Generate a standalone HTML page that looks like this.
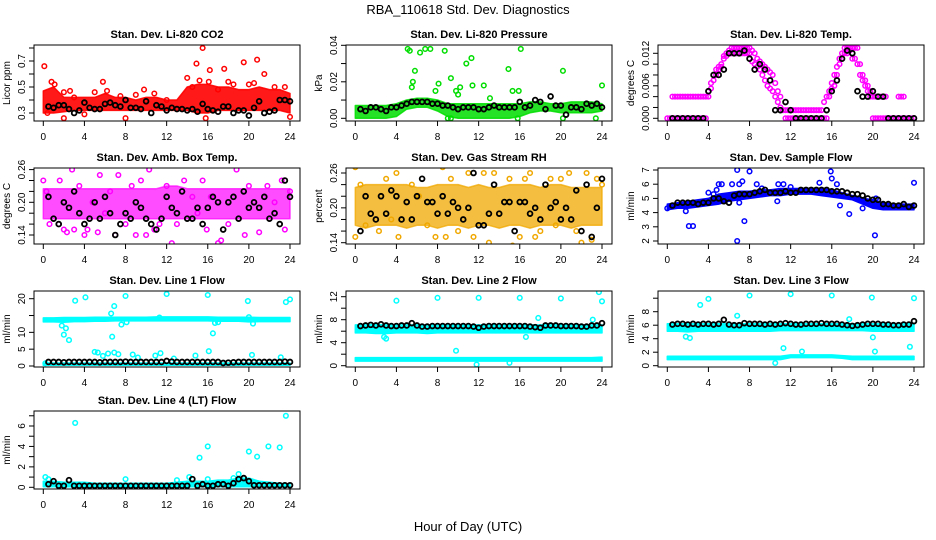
<!DOCTYPE html>
<html><head><meta charset="utf-8"><style>
html,body{margin:0;padding:0;background:#fff;width:936px;height:540px;overflow:hidden}
svg{display:block;font-family:"Liberation Sans",sans-serif}
</style></head><body>
<svg id="chart" width="936" height="540" viewBox="0 0 936 540">
<text x="468" y="14" font-size="13" text-anchor="middle">RBA_110618  Std. Dev. Diagnostics</text>
<text x="468" y="531" font-size="13" text-anchor="middle">Hour of Day (UTC)</text>
</svg>
<script>
const hrs=[0.5,1,1.5,2,2.5,3,3.5,4,4.5,5,5.5,6,6.5,7,7.5,8,8.5,9,9.5,10,10.5,11,11.5,12,12.5,13,13.5,14,14.5,15,15.5,16,16.5,17,17.5,18,18.5,19,19.5,20,20.5,21,21.5,22,22.5,23,23.5,24];
const bandHrs=[0,1,2,3,4,5,6,7,8,9,10,11,12,13,14,15,16,17,18,19,20,21,22,23,24];
const xTicks=[0,4,8,12,16,20,24];

// Panel 1 CO2
const co2Black=[0.35,0.34,0.36,0.36,0.33,0.30,0.32,0.38,0.34,0.33,0.33,0.37,0.38,0.36,0.35,0.40,0.34,0.34,0.33,0.39,0.30,0.36,0.35,0.32,0.34,0.33,0.33,0.32,0.33,0.31,0.37,0.33,0.32,0.31,0.35,0.35,0.30,0.32,0.32,0.28,0.34,0.39,0.30,0.31,0.32,0.40,0.40,0.39];
const co2Hi=[0.47,0.5,0.42,0.42,0.42,0.42,0.45,0.42,0.42,0.4,0.42,0.42,0.4,0.4,0.5,0.52,0.52,0.5,0.5,0.48,0.48,0.5,0.48,0.48,0.45];
const co2Lo=[0.3,0.3,0.31,0.32,0.32,0.32,0.32,0.32,0.32,0.32,0.32,0.32,0.32,0.32,0.32,0.3,0.3,0.32,0.32,0.32,0.32,0.32,0.32,0.32,0.3];
const co2Pts=[[0.1,0.66],[0.4,0.3],[0.8,0.54],[1.1,0.52],[2,0.46],[2,0.26],[2.6,0.47],[3,0.42],[4,0.29],[5,0.46],[5.8,0.54],[6.2,0.47],[7.5,0.43],[8,0.26],[9,0.44],[9.8,0.48],[10.8,0.45],[12,0.4],[14,0.57],[14.5,0.5],[14.9,0.68],[15.2,0.55],[15.5,0.8],[15.8,0.26],[16.1,0.54],[16.2,0.63],[17,0.48],[17.6,0.64],[18,0.54],[18.5,0.52],[19.5,0.69],[20,0.52],[20.5,0.53],[20.8,0.71],[21.5,0.6],[22.5,0.5],[23.5,0.5],[24,0.27]];

// Panel 2 pressure
const prBlack=[0.005,0.004,0.006,0.006,0.005,0.004,0.006,0.006,0.007,0.008,0.009,0.009,0.009,0.009,0.008,0.008,0.007,0.007,0.006,0.005,0.006,0.006,0.006,0.005,0.005,0.006,0.007,0.006,0.006,0.006,0.006,0.009,0.006,0.007,0.010,0.009,0.005,0.012,0.007,0.007,0.002,0.006,0.006,0.005,0.008,0.007,0.008,0.006];
const prHi=[0.007,0.007,0.007,0.007,0.008,0.010,0.011,0.011,0.010,0.008,0.008,0.008,0.008,0.008,0.008,0.008,0.008,0.009,0.009,0.008,0.008,0.009,0.009,0.009,0.008];
const prLo=[0,0,0,0,0.001,0.005,0.006,0.006,0.004,0.001,0,0,0,0,0,0,0.001,0.003,0.004,0.004,0.003,0.003,0.003,0.003,0.004];
const prPts=[[5.1,0.038],[5.3,0.037],[5.5,0.017],[5.6,0.02],[5.8,0.026],[6.3,0.036],[6.8,0.038],[7.3,0.038],[7.8,0.015],[8.1,0.019],[8.7,0.037],[9.3,0.022],[9.8,0.015],[10,0.013],[10.2,0.017],[10.8,0.03],[11.3,0.033],[11.4,0.018],[12.5,0.018],[13.1,0.011],[14.9,0.027],[15.3,0.015],[15.9,0.015],[16.1,0.038],[20.2,0.026],[23.4,0],[24,0.018],[9,0],[9.3,0],[15.8,0],[20.2,0]];

// Panel 3 Li-820 temp (quarter-hour series)
const tempA=[null,null,.004,.004,.004,.004,.004,.004,.004,.004,.004,.004,.004,.004,.004,.004,.005,.0065,.008,.009,.0095,.010,.0115,.012,.0125,.013,.013,.013,.013,.013,.013,.013,.013,.0125,.012,.011,.0105,.010,.0095,.009,.0085,.008,.0065,.005,.004,.0015,.0015,.0015,.0015,.0015,.0015,.0015,.0015,.0015,.0015,.0015,.0015,.0015,.0015,.0015,.0015,.003,.004,.005,.0065,.008,.0095,.011,.012,.013,.013,.013,.013,.013,.013,.010,.008,.007,.006,.005,.004,.004,.004,.004,.004,.004,null,null,null,null,.004,.004,.004,null,null,null,null];
const tempB=[0,0,0,0,0,0,0,0,0,0,0,0,0,0,0,0,.004,.0055,.007,.008,.009,.0095,.011,.0115,.012,.012,.012,.012,.012,.012,.012,.012,.012,.0105,.010,.0095,.009,.008,.007,.006,.0055,.005,.004,.003,.002,null,0,0,0,0,0,0,0,0,0,0,0,0,0,0,0,0,0,.004,.0055,.006,.008,.010,.011,.012,.012,.0125,.011,.011,.010,.008,.007,.006,.005,.004,0,0,0,0,0,0,0,0,0,0,0,0,0,0,0,0,0];
const tempBlack=[0,0,0,0,0,0,0,.005,.008,.008,.009,.012,.012,.012,.0125,.011,.009,.010,.009,.007,.0015,.0015,.003,.0015,0,0,0,0,0,0,.0015,.005,.007,.011,.0125,.012,.005,.004,.004,.005,.004,.004,0,0,0,0,0,0];

// Panel 4 amb box temp
const ambBlack=[0.21,0.17,0.16,0.20,0.19,0.22,0.18,0.16,0.17,0.20,0.17,0.21,0.18,0.14,0.16,0.18,0.17,0.20,0.19,0.17,0.16,0.15,0.17,0.21,0.19,0.18,0.22,0.17,0.17,0.19,0.16,0.19,0.21,0.20,0.15,0.20,0.21,0.17,0.22,0.19,0.20,0.19,0.21,0.17,0.18,0.16,0.24,0.21];
const ambHi=[0.225,0.225,0.225,0.225,0.225,0.225,0.225,0.225,0.225,0.225,0.225,0.225,0.23,0.23,0.225,0.225,0.225,0.225,0.225,0.225,0.225,0.225,0.225,0.225,0.225];
const ambLo=[0.17,0.17,0.17,0.17,0.17,0.17,0.17,0.17,0.17,0.17,0.17,0.17,0.17,0.17,0.17,0.17,0.17,0.17,0.17,0.17,0.17,0.17,0.17,0.17,0.17];
const ambPts=[[0,0.24],[0.3,0.22],[0.6,0.16],[1,0.17],[1.5,0.16],[1.6,0.24],[2,0.15],[2.3,0.145],[2.8,0.26],[3,0.15],[3.5,0.23],[4,0.14],[4.3,0.15],[4.8,0.2],[5.3,0.145],[5.5,0.25],[6,0.18],[6.5,0.22],[7,0.14],[7.3,0.25],[8,0.16],[8.6,0.23],[9,0.14],[9.5,0.24],[10,0.14],[10.3,0.26],[10.8,0.15],[11.3,0.16],[12,0.23],[12.5,0.125],[13,0.16],[13.7,0.24],[14.5,0.21],[15,0.18],[15.5,0.24],[15.9,0.15],[16.3,0.21],[17,0.125],[17.3,0.13],[18,0.16],[18.8,0.26],[19.6,0.14],[20,0.23],[21,0.145],[21.8,0.23],[22.5,0.2],[23.2,0.24],[23.5,0.15],[24,0.22]];

// Panel 5 RH
const rhBlack=[0.16,0.22,0.19,0.18,0.22,0.19,0.23,0.22,0.18,0.21,0.18,0.22,0.25,0.21,0.21,0.19,0.22,0.19,0.21,0.20,0.18,0.20,0.26,0.17,0.17,0.19,0.24,0.19,0.21,0.21,0.16,0.21,0.21,0.19,0.20,0.18,0.24,0.20,0.21,0.18,0.20,0.18,0.23,0.16,0.24,0.15,0.20,0.25];
const rhHi=[0.235,0.24,0.24,0.24,0.24,0.24,0.235,0.235,0.24,0.24,0.24,0.235,0.24,0.235,0.235,0.24,0.24,0.24,0.235,0.24,0.24,0.235,0.235,0.235,0.235];
const rhLo=[0.17,0.165,0.17,0.17,0.17,0.165,0.17,0.17,0.165,0.17,0.17,0.165,0.17,0.17,0.165,0.17,0.17,0.165,0.17,0.17,0.17,0.165,0.17,0.17,0.17];
const rhPts=[[0,0.27],[0,0.15],[0.5,0.24],[1,0.17],[2,0.18],[2.3,0.16],[3,0.25],[3.5,0.18],[4,0.26],[4.2,0.15],[5.5,0.24],[6.2,0.22],[7,0.17],[7.8,0.15],[8.5,0.27],[8.8,0.15],[9.3,0.25],[10,0.16],[11,0.26],[11.5,0.15],[12.5,0.26],[13,0.14],[13.5,0.26],[14.5,0.13],[15,0.25],[15.3,0.135],[16,0.15],[16.5,0.25],[17,0.26],[17.5,0.15],[18,0.16],[19,0.25],[19.5,0.17],[20,0.25],[20.8,0.26],[21.5,0.16],[22,0.14],[22.5,0.26],[23,0.145],[23.5,0.25],[24,0.24]];

// Panel 6 sample flow
const sfBlack=[4.5,4.7,4.7,4.7,4.7,4.6,4.7,4.7,5.0,5.0,4.8,4.7,5.2,5.3,5.3,5.3,5.4,5.5,5.6,5.4,5.4,5.4,5.5,5.4,5.4,5.6,5.6,5.6,5.6,5.6,5.6,5.5,5.5,5.5,5.4,5.3,5.3,5.2,5.0,4.9,4.9,4.6,4.6,4.5,4.5,4.6,4.4,4.5];
const sfHi=[4.6,4.7,4.8,4.9,5.0,5.3,5.4,5.5,5.5,5.6,5.6,5.7,5.7,5.7,5.7,5.7,5.6,5.4,5.2,5.0,4.9,4.7,4.6,4.6,4.6];
const sfLo=[4.2,4.3,4.3,4.4,4.5,4.6,4.8,4.9,5.0,5.1,5.2,5.2,5.3,5.3,5.3,5.2,5.1,5.0,4.9,4.6,4.3,4.2,4.2,4.2,4.2];
const sfPts=[[0,4.3],[1.8,4.1],[2.1,3.05],[2.5,3.05],[4,5.4],[4.5,5.3],[4.8,5.6],[5,6.0],[5.3,6.0],[6.3,6.0],[6.8,7.0],[6.8,2.0],[7,6.0],[7.3,6.2],[7.5,3.4],[7,4.7],[8,6.9],[8.7,6.0],[9.2,5.7],[10.7,4.8],[10.8,6.0],[11.3,6.0],[12,5.8],[14.8,6.1],[15.9,6.9],[16,6.4],[16.5,6.0],[16.8,4.5],[17.7,3.9],[19,4.3],[20.2,2.4],[20.3,5.0],[24,6.1]];

// Panel 7 line 1
const l1Black=[1.2,1.2,1.2,1.1,1.2,1.2,1.2,1.2,1.2,1.2,1.1,1.2,1.2,1.2,1.2,1.3,1.2,1.2,1.2,1.2,1.2,1.2,1.2,1.5,1.3,1.2,1.2,1.2,1.2,1.2,1.2,1.2,1.2,1.2,0.9,1.0,1.1,1.2,1.2,1.2,1.2,1.2,1.2,1.2,1.2,1.2,1.3,1.2];
const l1Hi=[14.3,14.3,14.4,14.4,14.4,14.5,14.5,14.5,14.5,14.5,14.5,14.6,14.6,14.6,14.6,14.6,14.6,14.5,14.5,14.5,14.5,14.4,14.4,14.4,14.4];
const l1Lo=[13.1,13.1,13.0,13.2,13.2,13.3,13.3,13.4,13.4,13.4,13.4,13.4,13.4,13.4,13.4,13.4,13.4,13.3,13.3,13.3,13.1,13.2,13.2,13.2,13.2];
const l1Hi2=[0.9,0.9,0.9,0.9,0.9,0.9,0.9,0.9,0.9,0.9,0.9,0.9,0.9,0.9,0.9,0.9,0.9,0.9,0.9,0.9,0.9,0.9,0.9,0.9,0.9];
const l1Lo2=[0.2,0.2,0.2,0.2,0.2,0.2,0.2,0.2,0.2,0.2,0.2,0.2,0.2,0.2,0.2,0.2,0.2,0.2,0.2,0.2,0.2,0.2,0.2,0.2,0.2];
const l1Pts=[[2,9.3],[1.8,12],[2.2,11.2],[2.5,7.7],[3.1,19.4],[4.1,20.4],[5,4.2],[5.3,4],[5.8,3],[6.3,3.7],[6.6,15.6],[6.7,8.7],[6.9,17.8],[6.9,4],[7.3,3.5],[7.6,12.3],[8,20.8],[8.1,13],[8.7,3.4],[9.2,2.5],[10.9,3.1],[11.3,14.4],[11.4,3.8],[12,21.4],[12.7,2.2],[14.8,3.1],[16,21.1],[16.1,4.4],[16.5,9.7],[16.7,12.8],[17,13],[19.9,19.3],[20,14.5],[20.3,3.3],[20.4,12.6],[23.1,2.6],[23.6,19],[24,19.8],[0.2,0.8]];

// Panel 8 line 2
const l2Black=[6.9,7.0,7.1,7.0,7.2,7.0,6.9,6.9,7.0,7.0,7.4,7.0,6.8,6.8,6.9,6.9,6.9,6.9,6.9,6.9,6.9,6.9,6.8,6.6,6.8,6.9,6.9,6.9,6.9,6.9,6.9,6.9,6.9,6.8,6.7,6.6,7.0,7.0,7.0,6.9,6.9,6.9,6.9,6.8,6.8,7.0,7.0,7.4];
const l2Hi=[7.1,7.1,7.2,7.1,7.1,7.1,7.1,7.1,7.1,7.1,7.1,7.1,7.1,7.1,7.1,7.1,7.1,7.1,7.1,7.1,7.1,7.1,7.1,7.1,7.1];
const l2Lo=[5.7,5.7,5.6,5.6,5.7,5.7,5.7,5.6,5.7,5.7,5.7,5.7,5.7,5.7,5.7,5.7,5.7,5.7,5.7,5.7,5.7,5.7,5.7,5.7,5.7];
const l2Hi2=[1.4,1.4,1.4,1.4,1.4,1.4,1.4,1.4,1.4,1.4,1.4,1.4,1.4,1.4,1.4,1.4,1.4,1.4,1.4,1.4,1.4,1.4,1.4,1.4,1.5];
const l2Lo2=[0.8,0.8,0.8,0.8,0.8,0.8,0.8,0.8,0.8,0.8,0.8,0.8,0.8,0.8,0.8,0.8,0.8,0.8,0.8,0.8,0.8,0.8,0.8,0.8,0.8];
const l2Pts=[[3,4.7],[2.8,5],[4,11.3],[8,11.8],[9.8,2.6],[12,11.8],[11.8,0.2],[15,0.5],[16,11.8],[16.6,5],[17.8,8.3],[20,11.7],[23.1,8],[23.7,12.8],[24,11.2]];

// Panel 9 line 3
const l3Black=[6.1,6.2,6.2,6.1,6.2,6.1,6.2,6.2,6.1,6.2,6.8,6.1,6.0,6.0,6.3,6.2,6.2,6.2,6.1,6.2,6.1,6.2,6.3,6.2,6.1,6.1,6.2,6.2,6.2,6.3,6.2,6.2,6.2,6.1,6.0,5.9,6.0,6.1,6.2,6.2,6.2,6.1,6.1,6.0,6.0,6.1,6.1,6.6];
const l3Hi=[6.2,6.2,6.2,6.2,6.2,6.2,6.2,6.2,6.2,6.2,6.2,6.2,6.2,6.2,6.2,6.2,6.2,6.2,6.2,6.2,6.2,6.2,6.2,6.2,6.3];
const l3Lo=[5.1,5.1,5.0,5.1,5.1,5.1,5.1,5.1,5.1,5.1,5.1,5.2,5.2,5.2,5.2,5.2,5.2,5.2,5.2,5.2,5.1,5.1,5.1,5.1,5.1];
const l3Hi2=[1.4,1.4,1.4,1.4,1.4,1.4,1.4,1.4,1.4,1.4,1.4,1.4,1.6,1.6,1.6,1.6,1.6,1.5,1.4,1.4,1.4,1.4,1.4,1.4,1.4];
const l3Lo2=[0.9,0.9,0.9,0.9,0.9,0.9,0.9,0.9,0.9,0.9,0.9,0.9,1.2,1.2,1.2,1.2,1.2,1.1,0.9,0.9,0.9,0.9,0.9,0.9,0.9];
const l3Pts=[[3.2,9],[4,9.9],[6.8,7.4],[8,10.4],[12,10.6],[16,10.4],[17.7,6.9],[19.9,10.1],[20,4.2],[20.2,2.1],[11.3,2.6],[10.5,0.4],[13.1,2.1],[23.6,2.8],[24,10],[1.8,4.3],[2.2,4.1]];

// Panel 10 line 4
const l4Black=[0.3,0.6,0.15,0.15,0.7,0.15,0.15,0.15,0.15,0.15,0.15,0.15,0.15,0.15,0.15,0.15,0.15,0.15,0.15,0.15,0.15,0.15,0.15,0.15,0.15,0.15,0.15,0.15,0.8,0.15,0.3,0.15,0.15,0.3,0.3,0.15,0.4,0.8,0.9,0.6,0.2,0.2,0.2,0.2,0.2,0.2,0.2,0.2];
const l4Hi=[0.6,0.6,0.5,0.5,0.5,0.4,0.4,0.4,0.4,0.4,0.4,0.4,0.4,0.5,0.6,0.6,0.6,0.7,0.7,0.9,0.9,0.6,0.5,0.4,0.3];
const l4Lo=[0.05,0.05,0.05,0.05,0.05,0.05,0.05,0.05,0.05,0.05,0.05,0.05,0.05,0.05,0.05,0.05,0.05,0.05,0.05,0.05,0.05,0.05,0.05,0.05,0.05];
const l4Pts=[[0.2,1.0],[0.5,0.8],[3.1,6.3],[8,0.8],[13,0.7],[14.2,1.0],[15.2,2.9],[16,4.0],[19,1.3],[20,3.5],[20.8,3.0],[21.9,4.0],[23,3.9],[23.6,7.0],[16,0.8],[18.5,0.9]];

const NS='http://www.w3.org/2000/svg';
const svg=document.getElementById('chart');
function mk(tag,attrs,parent){const e=document.createElementNS(NS,tag);for(const k in attrs)e.setAttribute(k,attrs[k]);(parent||svg).appendChild(e);return e;}

const cols=[[34,300],[346,612],[658,924]];
const rows=[[45,121],[168,244],[291,367],[411,489]];
const colX0=[43.3,355.3,667.3];

const panels=[
 {key:'co2',title:'Stan. Dev. Li-820 CO2',ylab:'Licor ppm',c:0,r:0,ref:[0.3,113,0.7,61],ticks:[0.3,0.4,0.5,0.6,0.7,0.8],labels:{0.3:'0.3',0.5:'0.5',0.7:'0.7'},color:'#ff0000',op:0.9,bands:[[co2Lo,co2Hi]],pts:co2Pts,black:co2Black},
 {key:'pressure',title:'Stan. Dev. Li-820 Pressure',ylab:'kPa',c:1,r:0,ref:[0,118.3,0.04,45.3],ticks:[0,0.01,0.02,0.03,0.04],labels:{0:'0.00',0.02:'0.02',0.04:'0.04'},color:'#00dd00',op:0.85,bands:[[prLo,prHi]],pts:prPts,black:prBlack},
 {key:'li-temp',title:'Stan. Dev. Li-820 Temp.',ylab:'degrees C',c:2,r:0,ref:[0,118.3,0.012,53.3],ticks:[0,0.002,0.004,0.006,0.008,0.010,0.012],labels:{0:'0.000',0.006:'0.006',0.012:'0.012'},color:'#ff00ff',op:1,bands:[],pts:[],quarter:[tempA,tempB],black:tempBlack},
 {key:'amb-temp',title:'Stan. Dev. Amb. Box Temp.',ylab:'degrees C',c:0,r:1,ref:[0.14,235,0.20,202.3],ticks:[0.14,0.16,0.18,0.20,0.22,0.24,0.26],labels:{0.14:'0.14',0.2:'0.20',0.26:'0.26'},color:'#ff00ff',op:0.7,bands:[[ambLo,ambHi]],pts:ambPts,black:ambBlack},
 {key:'rh',title:'Stan. Dev. Gas Stream RH',ylab:'percent',c:1,r:1,ref:[0.14,242.7,0.26,173],ticks:[0.14,0.16,0.18,0.20,0.22,0.24,0.26],labels:{0.14:'0.14',0.2:'0.20',0.26:'0.26'},color:'#f0a800',op:0.75,bands:[[rhLo,rhHi]],pts:rhPts,black:rhBlack},
 {key:'sample-flow',title:'Stan. Dev. Sample Flow',ylab:'ml/min',c:2,r:1,ref:[2,241,7,170],ticks:[2,3,4,5,6,7],labels:{2:'2',3:'3',4:'4',5:'5',6:'6',7:'7'},color:'#0000ff',op:1,bands:[[sfLo,sfHi]],pts:sfPts,black:sfBlack},
 {key:'line1',title:'Stan. Dev. Line 1 Flow',ylab:'ml/min',c:0,r:2,ref:[0,366,20,298.7],ticks:[0,5,10,15,20],labels:{0:'0',5:'5',10:'10',20:'20'},color:'#00ffff',op:1,bands:[[l1Lo,l1Hi],[l1Lo2,l1Hi2]],pts:l1Pts,black:l1Black},
 {key:'line2',title:'Stan. Dev. Line 2 Flow',ylab:'ml/min',c:1,r:2,ref:[0,365.7,12,296.7],ticks:[0,2,4,6,8,10,12],labels:{0:'0',4:'4',8:'8',12:'12'},color:'#00ffff',op:1,bands:[[l2Lo,l2Hi],[l2Lo2,l2Hi2]],pts:l2Pts,black:l2Black},
 {key:'line3',title:'Stan. Dev. Line 3 Flow',ylab:'ml/min',c:2,r:2,ref:[0,365.7,8,311.7],ticks:[0,2,4,6,8,10],labels:{0:'0',2:'2',4:'4',6:'6',8:'8'},color:'#00ffff',op:1,bands:[[l3Lo,l3Hi],[l3Lo2,l3Hi2]],pts:l3Pts,black:l3Black},
 {key:'line4',title:'Stan. Dev. Line 4 (LT) Flow',ylab:'ml/min',c:0,r:3,ref:[0,487.3,6,426],ticks:[0,1,2,3,4,5,6,7],labels:{0:'0',2:'2',4:'4',6:'6'},color:'#00ffff',op:1,bands:[[l4Lo,l4Hi]],pts:l4Pts,black:l4Black}
];

panels.forEach((p,pi)=>{
  const [bx0,bx1]=cols[p.c],[by0,by1]=rows[p.r];
  const x0=colX0[p.c], xs=(290-43.3)/24;
  const X=h=>x0+h*xs;
  const [v0,p0,v1,p1]=p.ref;
  const Y=v=>p0+(v-v0)*(p1-p0)/(v1-v0);
  const g=mk('g',{});
  
  
  const cp=mk('clipPath',{id:'clip'+pi},g);
  mk('rect',{x:bx0,y:by0,width:bx1-bx0,height:by1-by0},cp);
  const plot=mk('g',{'clip-path':'url(#clip'+pi+')'},g);
  
  
  p.bands.forEach(([lo,hi])=>{
    let d='';
    bandHrs.forEach((h,i)=>{d+=(i?'L':'M')+X(h).toFixed(1)+','+Y(hi[i]).toFixed(1);});
    for(let i=bandHrs.length-1;i>=0;i--)d+='L'+X(bandHrs[i]).toFixed(1)+','+Y(lo[i]).toFixed(1);
    const b=mk('path',{d:d+'Z',fill:p.color,'fill-opacity':p.op,stroke:p.color,'stroke-opacity':p.op,'stroke-width':1.5,'stroke-linejoin':'round'},plot);
    
    
  });
  if(p.quarter){
    p.quarter.forEach(arr=>{arr.forEach((v,i)=>{if(v===null)return;
      const c=mk('circle',{cx:X(i/4),cy:Y(v),r:2.3,fill:'none',stroke:p.color,'stroke-width':1.5},plot);
      
      
    });});
  }
  p.pts.forEach(([h,v])=>{
    const c=mk('circle',{cx:X(h),cy:Y(v),r:2.3,fill:'none',stroke:p.color,'stroke-width':1.5},plot);
    
    
  });
  p.black.forEach((v,i)=>{
    const c=mk('circle',{cx:X(hrs[i]),cy:Y(v),r:2.4,fill:'none',stroke:'#000','stroke-width':1.8},plot);
    
    
  });
  const box=mk('rect',{x:bx0,y:by0,width:bx1-bx0,height:by1-by0,fill:'none',stroke:'#000','stroke-width':1},g);
  
  
  xTicks.forEach(t=>{
    mk('line',{x1:X(t),x2:X(t),y1:by1,y2:by1+5,stroke:'#000'},g);
    const tx=mk('text',{x:X(t),y:by1+19,'font-size':10,'text-anchor':'middle'},g);
    tx.textContent=t;
    
    
  });
  p.ticks.forEach(t=>{
    const yy=Y(t);
    mk('line',{x1:bx0-5,x2:bx0,y1:yy,y2:yy,stroke:'#000'},g);
    const key=Object.keys(p.labels).find(k=>Math.abs(parseFloat(k)-t)<1e-9);
    if(key!==undefined){
      const tx=mk('text',{x:bx0-9,y:yy,'font-size':10,'text-anchor':'middle',transform:'rotate(-90 '+(bx0-9)+' '+yy+')'},g);
      tx.textContent=p.labels[key];
      
      
    }
  });
  const tt=mk('text',{x:(bx0+bx1)/2,y:by0-7,'font-size':11,'font-weight':'bold','text-anchor':'middle'},g);
  tt.textContent=p.title;
  
  
  const yl=(by0+by1)/2, xl=bx0-24;
  const yt=mk('text',{x:xl,y:yl,'font-size':10,'text-anchor':'middle',transform:'rotate(-90 '+xl+' '+yl+')'},g);
  yt.textContent=p.ylab;
  
  
});
</script>
</body></html>
